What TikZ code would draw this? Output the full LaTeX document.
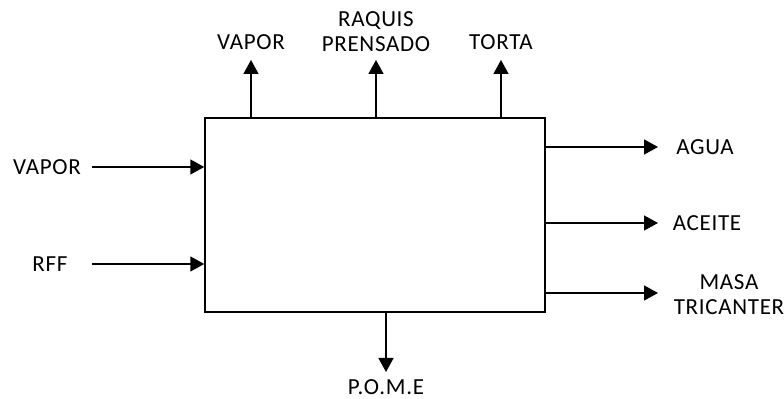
\documentclass[tikz,border=0pt]{standalone}
\usepackage{fontspec}
\setmainfont{Carlito}[LetterSpace=3]
\usetikzlibrary{positioning, arrows.meta}

\begin{document}
\begin{tikzpicture}[
  x=0.5pt, y=-0.5pt,
  font=\fontsize{11.5}{12.5}\selectfont,
  % Estilos de bloques
  box/.style={draw, rectangle, line width=0.75pt, minimum width=170pt, minimum height=97pt, fill=white},
  etiqueta/.style={align=center, inner sep=0pt},
  % Estilos de flechas
  line/.style={draw, -{Triangle[length=7pt, width=7.5pt]}, line width=0.75pt}
]
  \useasboundingbox (0,0) rectangle (784,399);

  % ==========================================
  % PROCESS BLOCK
  % ==========================================
  \node[box] (proceso) at (375,215) {};

  % ==========================================
  % INPUTS (LEFT)
  % ==========================================
  \node[etiqueta] (vapor_ent) at (47,167) {VAPOR};
  \coordinate (vapor_ini) at (92,167);
  \draw[line] (vapor_ini) -- (proceso.west |- vapor_ini);

  \node[etiqueta] (rff) at (50,264) {RFF};
  \coordinate (rff_ini) at (92,264);
  \draw[line] (rff_ini) -- (proceso.west |- rff_ini);

  % ==========================================
  % OUTPUTS (TOP)
  % ==========================================
  \node[etiqueta] (vapor_sal) at (251,42) {VAPOR};
  \coordinate (vapor_fin) at (251,60);
  \draw[line] (proceso.north -| vapor_fin) -- (vapor_fin);

  \node[etiqueta] (raquis) at (376,32) {RAQUIS\\PRENSADO};
  \coordinate (raquis_fin) at (376,60);
  \draw[line] (proceso.north -| raquis_fin) -- (raquis_fin);

  \node[etiqueta] (torta) at (501,42) {TORTA};
  \coordinate (torta_fin) at (501,60);
  \draw[line] (proceso.north -| torta_fin) -- (torta_fin);

  % ==========================================
  % OUTPUTS (RIGHT AND BOTTOM)
  % ==========================================
  \node[etiqueta] (agua) at (705,147) {AGUA};
  \coordinate (agua_fin) at (658,147);
  \draw[line] (proceso.east |- agua_fin) -- (agua_fin);

  \node[etiqueta] (aceite) at (707,223) {ACEITE};
  \coordinate (aceite_fin) at (658,223);
  \draw[line] (proceso.east |- aceite_fin) -- (aceite_fin);

  \node[etiqueta] (masa) at (729,295) {MASA\\TRICANTER};
  \coordinate (masa_fin) at (658,293);
  \draw[line] (proceso.east |- masa_fin) -- (masa_fin);

  \node[etiqueta] (pome) at (386,387) {P.O.M.E};
  \coordinate (pome_fin) at (386,372);
  \draw[line] (proceso.south -| pome_fin) -- (pome_fin);

\end{tikzpicture}
\end{document}
